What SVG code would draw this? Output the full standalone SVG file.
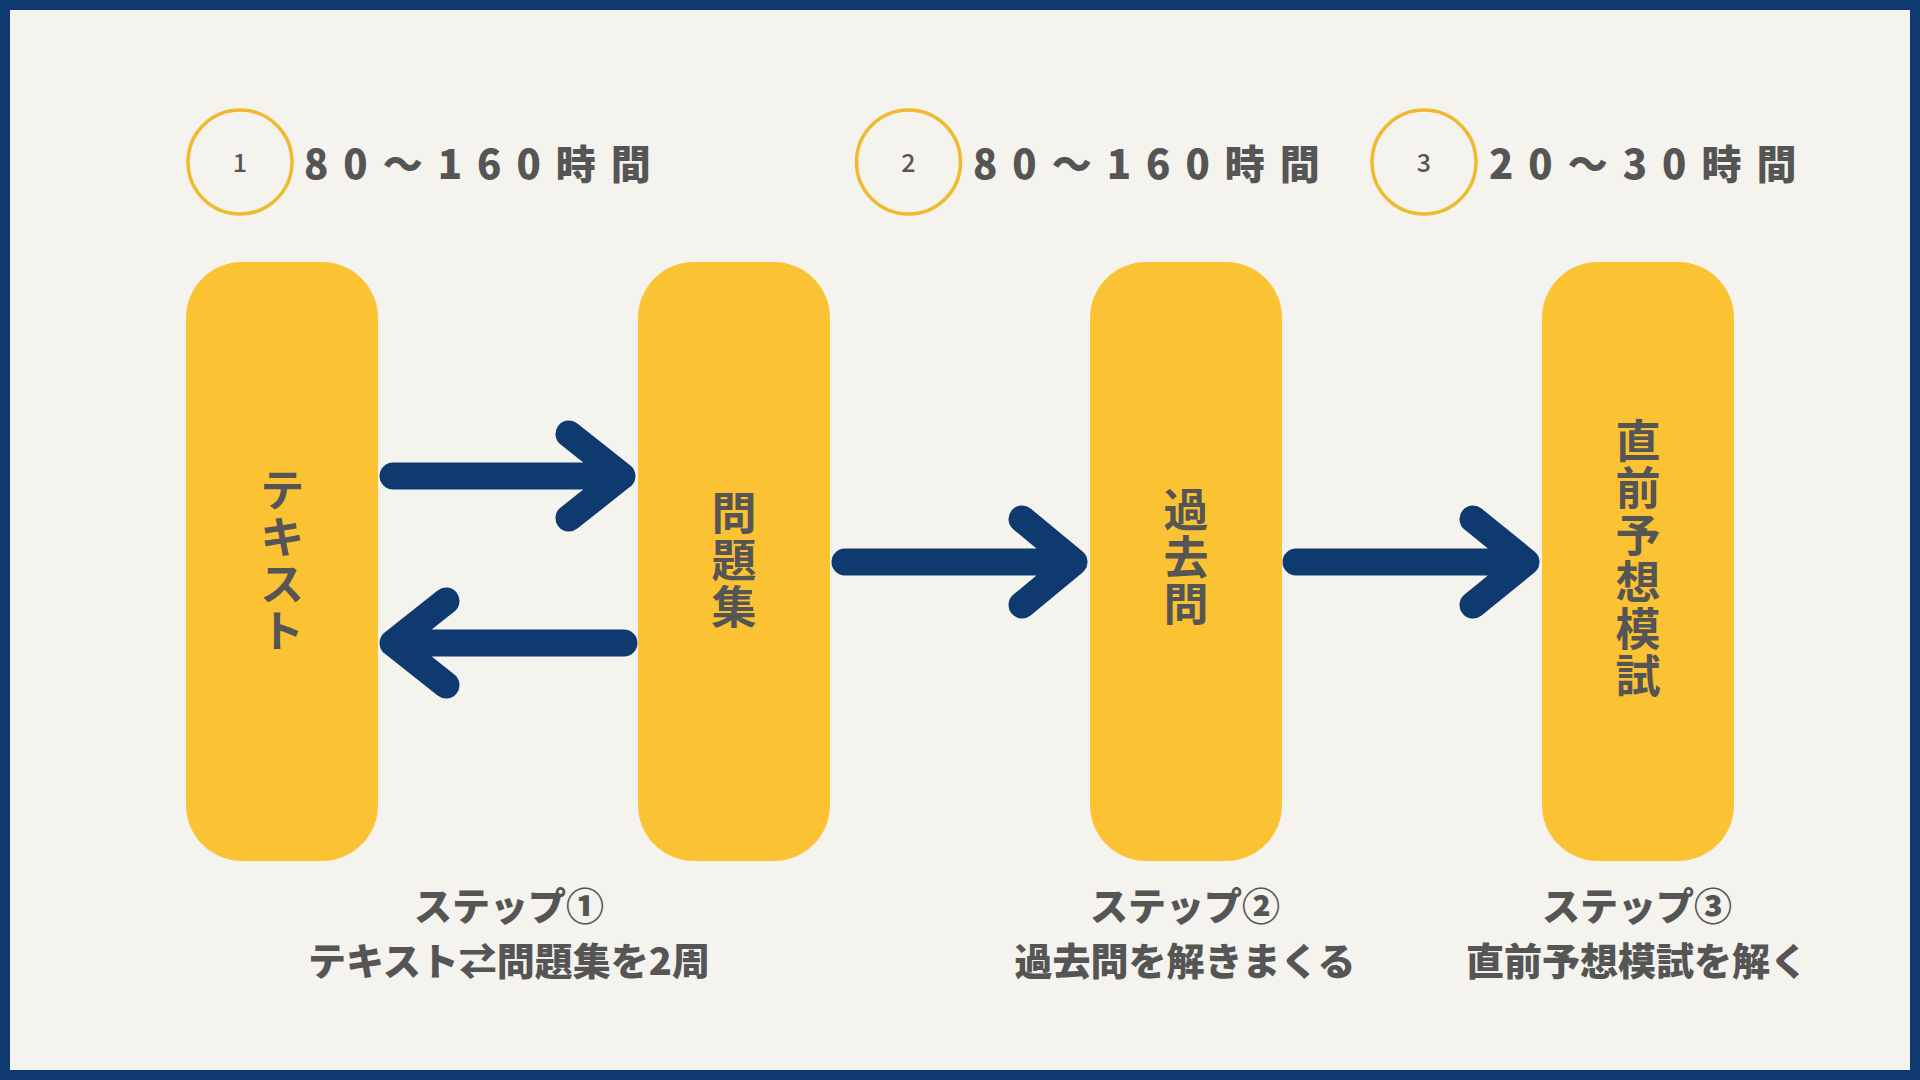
<svg xmlns="http://www.w3.org/2000/svg" width="1920" height="1080" viewBox="0 0 1920 1080">
<style>
.bg{fill:#0e3a70}
.panel{fill:#f4f3ee}
.box{fill:#fbc233}
.ring{fill:none;stroke:#efba2e;stroke-width:3.5}
.num{font-family:"Noto Sans CJK JP","Noto Sans",sans-serif;font-size:25px;font-weight:500;fill:#555;text-anchor:middle}
.hours{font-family:"Noto Sans CJK JP","Noto Sans",sans-serif;font-size:40px;font-weight:900;fill:#555;letter-spacing:15px}
.vlabel{font-family:"Noto Sans CJK JP",sans-serif;font-size:45px;font-weight:700;fill:#555;writing-mode:vertical-rl;text-anchor:middle;letter-spacing:2px}
.cap{font-family:"Noto Sans CJK JP",sans-serif;font-size:38px;font-weight:900;fill:#555;text-anchor:middle}
.arrow{fill:none;stroke:#0e3a70;stroke-width:27;stroke-linecap:round;stroke-linejoin:round}
</style>
<rect class="bg" x="0" y="0" width="1920" height="1080"/>
<rect class="panel" x="10" y="10" width="1900" height="1060"/>

<g id="step1-header">
<circle class="ring" cx="240" cy="162" r="52"/>
<text class="num" x="240" y="172">1</text>
<text class="hours" x="304" y="179">80～160時間</text>
</g>
<g id="step2-header">
<circle class="ring" cx="908.5" cy="162" r="52"/>
<text class="num" x="908.5" y="172">2</text>
<text class="hours" x="973" y="179">80～160時間</text>
</g>
<g id="step3-header">
<circle class="ring" cx="1424" cy="162" r="52"/>
<text class="num" x="1424" y="172">3</text>
<text class="hours" x="1489" y="179">20～30時間</text>
</g>

<g id="node-text">
<rect class="box" x="186" y="262" width="192" height="599" rx="56"/>
<text class="vlabel" x="282" y="561">テキスト</text>
</g>
<g id="node-mondaishu">
<rect class="box" x="638" y="262" width="192" height="599" rx="56"/>
<text class="vlabel" x="734" y="561">問題集</text>
</g>
<g id="node-kakomon">
<rect class="box" x="1090" y="262" width="192" height="599" rx="56"/>
<text class="vlabel" x="1186" y="558">過去問</text>
</g>
<g id="node-mogi">
<rect class="box" x="1542" y="262" width="192" height="599" rx="56"/>
<text class="vlabel" x="1638" y="559">直前予想模試</text>
</g>

<g id="connectors">
<path class="arrow" d="M393 476 H620 M569 434 L622 476 L569 518"/>
<path class="arrow" d="M624 643 H396 M446 601 L393 643 L446 685"/>
<path class="arrow" d="M845 562 H1070 M1022 519 L1074 562 L1022 605"/>
<path class="arrow" d="M1296 562 H1522 M1473 519 L1526 562 L1473 605"/>
</g>

<g id="captions">
<text class="cap" x="509" y="920">ステップ①</text>
<text class="cap" x="509" y="975">テキスト⇄問題集を2周</text>
<text class="cap" x="1185" y="920">ステップ②</text>
<text class="cap" x="1185" y="975">過去問を解きまくる</text>
<text class="cap" x="1637" y="920">ステップ③</text>
<text class="cap" x="1637" y="975">直前予想模試を解く</text>
</g>
</svg>
